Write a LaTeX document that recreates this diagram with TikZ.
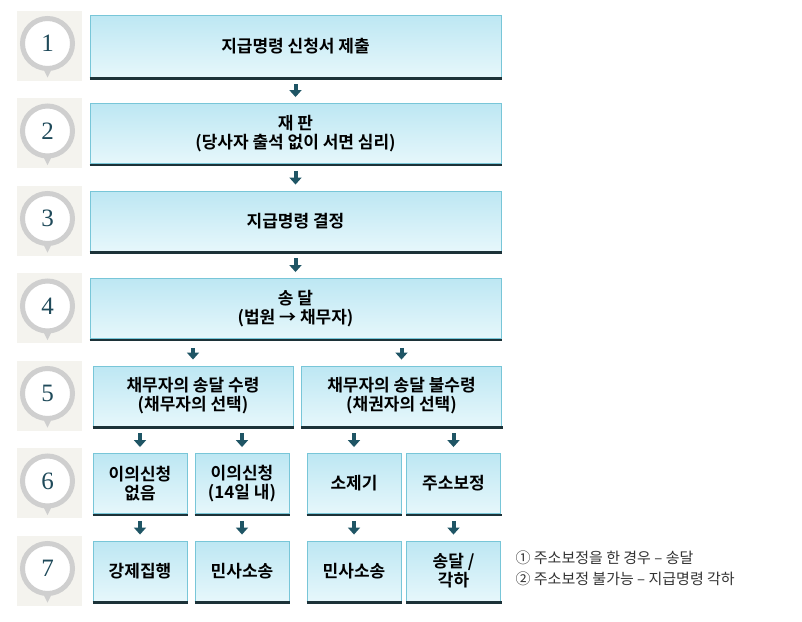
\documentclass[tikz,border=0pt]{standalone}
\usepackage{fontspec}
\setmainfont{Noto Sans CJK KR}[BoldFont={Noto Sans CJK KR Bold}]
\newfontfamily\numfont{Liberation Serif}
\usetikzlibrary{positioning,arrows.meta}

\definecolor{boxline}{HTML}{78C6D8}
\definecolor{boxtop}{HTML}{BDE7F3}
\definecolor{boxbot}{HTML}{E6F7FB}
\definecolor{shadowcol}{HTML}{1C3238}
\definecolor{arrowcol}{HTML}{1F5565}
\definecolor{paper}{HTML}{F4F3EE}
\definecolor{ringcol}{HTML}{CFCFCF}
\definecolor{numcol}{HTML}{1F4A5A}
\definecolor{notecol}{HTML}{333333}

\begin{document}
\begin{tikzpicture}[x=1pt, y=-1pt, node distance=87.5pt]
    \tikzset{
      box/.style={draw=boxline, line width=0.9pt, top color=boxtop, bottom color=boxbot,
        minimum height=60pt, inner sep=2pt, align=center, text=black,
        font=\bfseries\fontsize{17}{19}\selectfont},
      bigbox/.style={box, minimum width=411pt},
      halfbox/.style={box, minimum width=200pt},
      smallbox/.style={box, minimum width=94pt},
      arr/.style={draw=arrowcol, line width=4pt, -{Triangle[width=12pt, length=7pt]}},
      numring/.style={circle, draw=ringcol, line width=5pt, fill=white, minimum size=50pt,
        inner sep=0pt, text=numcol, font=\numfont\fontsize{25}{25}\selectfont},
      note/.style={align=left, text=notecol, font=\fontsize{15}{21}\selectfont}
    }
    \useasboundingbox (0,0) rectangle (802,621);

    % step markers
    \foreach \i in {1,...,7} {
      \pgfmathsetmacro\cy{43.5+87.5*(\i-1)}
      \fill[paper] (17,\cy-33) rectangle (82,\cy+37);
      \fill[ringcol] (43,\cy+25) -- (47.5,\cy+34) -- (52,\cy+25) -- cycle;
      \node[numring] (c\i) at (47.5,\cy) {\i};
    }

    % main column
    \node[bigbox, minimum height=62pt] (b1) at (295.5,46) {지급명령 신청서 제출};
    \node[bigbox, below of=b1] (b2) {재 판\\(당사자 출석 없이 서면 심리)};
    \node[bigbox, below of=b2] (b3) {지급명령 결정};
    \node[bigbox, below of=b3] (b4) {송 달\\(법원 → 채무자)};

    % split
    \node[halfbox, below of=b4, xshift=-102.5pt] (recv) {채무자의 송달 수령\\(채무자의 선택)};
    \node[halfbox, below of=b4, xshift=106pt] (norecv) {채무자의 송달 불수령\\(채권자의 선택)};

    \node[smallbox, below of=recv, xshift=-53pt] (noobj) {이의신청\\없음};
    \node[smallbox, below of=recv, xshift=49pt] (obj) {이의신청\\(14일 내)};
    \node[smallbox, below of=norecv, xshift=-47.5pt] (suit) {소제기};
    \node[smallbox, below of=norecv, xshift=52pt] (addr) {주소보정};

    \node[smallbox, below of=noobj] (exec) {강제집행};
    \node[smallbox, below of=obj] (civ1) {민사소송};
    \node[smallbox, below of=suit] (civ2) {민사소송};
    \node[smallbox, below of=addr] (serve) {송달 /\\각하};

    \node[note, anchor=west] (legend) at (512,568) {① 주소보정을 한 경우 – 송달\\② 주소보정 불가능 – 지급명령 각하};

    % dark bottom edges
    \foreach \n in {b1,b2,b3,b4,recv,norecv,noobj,obj,suit,addr,exec,civ1,civ2,serve}
      \draw[shadowcol, line width=2.2pt] ([yshift=-1pt]\n.south west) -- ([xshift=1pt, yshift=-1pt]\n.south east);

    % arrows
    \draw[arr] ([yshift=-7pt]b1.south) -- ([yshift=6pt]b2.north);
    \draw[arr] ([yshift=-7pt]b2.south) -- ([yshift=6pt]b3.north);
    \draw[arr] ([yshift=-7pt]b3.south) -- ([yshift=6pt]b4.north);
    \draw[arr] ([yshift=-9pt]b4.south -| recv) -- ([yshift=6pt]recv.north);
    \draw[arr] ([yshift=-9pt]b4.south -| norecv) -- ([yshift=6pt]norecv.north);
    \foreach \a/\b in {recv/noobj, recv/obj, norecv/suit, norecv/addr,
                       noobj/exec, obj/civ1, suit/civ2, addr/serve}
      \draw[arr] ([yshift=-7pt]\a.south -| \b) -- ([yshift=6pt]\b.north);
  \end{tikzpicture}
\end{document}
